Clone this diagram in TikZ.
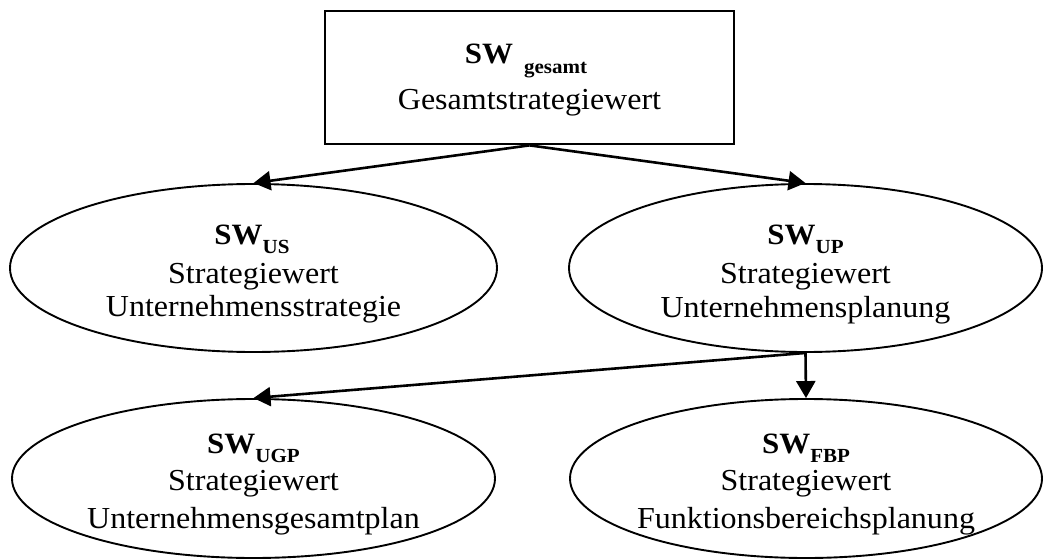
\documentclass[tikz,border=0pt]{standalone}
\usepackage{fontspec}
\setmainfont{Liberation Serif}[FakeStretch=1.05]
\usetikzlibrary{shapes.geometric,arrows.meta}

% bold subscript set below the baseline of "SW"
\newcommand\swsub[1]{\raisebox{-9.5pt}{\fontsize{20}{20}\selectfont\bfseries #1}}

\tikzset{
  topbox/.style={draw, line width=2.7pt, rectangle, minimum width=409pt, minimum height=133pt, inner sep=0pt},
  oval/.style={draw, line width=1.9pt, ellipse, inner sep=0pt},
  txt/.style={anchor=base, inner sep=0pt, font=\fontsize{30.5}{34}\selectfont},
  head/.style={anchor=base, inner sep=0pt, font=\fontsize{29.5}{34}\selectfont\bfseries},
  link/.style={line width=2.6pt, -{Triangle[length=17pt,width=19pt]}},
}

\begin{document}
\begin{tikzpicture}[x=1pt,y=-1pt]
\useasboundingbox (0,0) rectangle (1044,559);

% shapes
\node[topbox] (top) at (529.5,77.5) {};
\node[oval, minimum width=487pt, minimum height=168pt] (us)  at (253.5,268) {};
\node[oval, minimum width=473pt, minimum height=168pt] (up)  at (805.5,268) {};
\node[oval, minimum width=483pt, minimum height=159pt] (ugp) at (253.5,478.5) {};
\node[oval, minimum width=472pt, minimum height=159pt] (fbp) at (806,478.5) {};

% texts
\node[head] (top-h) at (526,64) {SW\hspace{11pt}\swsub{gesamt}};
\node[txt]  (top-t) at (529.5,110) {Gesamtstrategiewert};

\node[head] (us-h)  at (252,244) {SW\swsub{US}};
\node[txt]  (us-t1) at (253.5,283) {Strategiewert};
\node[txt]  (us-t2) at (253.5,316) {Unternehmensstrategie};

\node[head] (up-h)  at (805.5,244) {SW\swsub{UP}};
\node[txt]  (up-t1) at (805.5,283) {Strategiewert};
\node[txt]  (up-t2) at (805.5,317) {Unternehmensplanung};

\node[head] (ugp-h)  at (253.5,453) {SW\swsub{UGP}};
\node[txt]  (ugp-t1) at (253.5,490) {Strategiewert};
\node[txt]  (ugp-t2) at (253.5,528) {Unternehmensgesamtplan};

\node[head] (fbp-h)  at (806,453) {SW\swsub{FBP}};
\node[txt]  (fbp-t1) at (806,490) {Strategiewert};
\node[txt]  (fbp-t2) at (806,528) {Funktionsbereichsplanung};

% connectors
\draw[link] (top.south) -- (us.north);
\draw[link] (top.south) -- (up.north);
\draw[link] (up.south) -- (ugp.north);
\draw[link] (up.south) -- (fbp.north);
\end{tikzpicture}
\end{document}
